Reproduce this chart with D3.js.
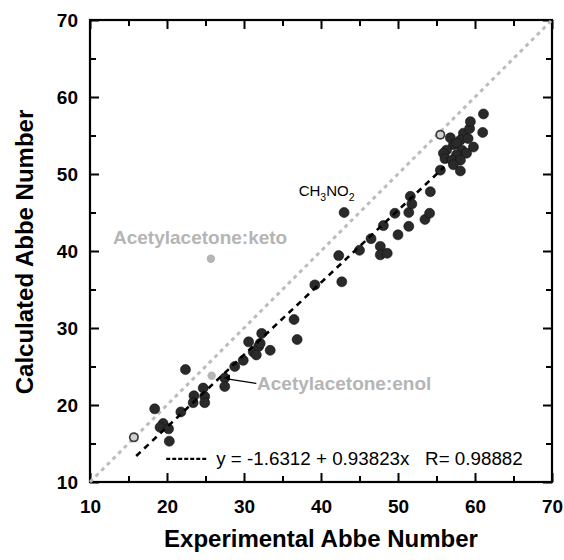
<!DOCTYPE html>
<html>
<head>
<meta charset="utf-8">
<script src="https://cdn.jsdelivr.net/npm/d3@7"></script>
<style>
  body { margin: 0; background: #fff; }
  svg { display: block; font-family: "Liberation Sans", Arial, sans-serif; }
</style>
</head>
<body>
<script>
// experimental vs calculated Abbe numbers (black points)
const expAbbe = [18.4, 19.5, 19.1, 20.2, 20.3, 21.8, 22.4, 23.5, 23.4, 24.7, 24.9, 24.9,
  27.5, 27.5, 28.8, 29.9, 30.6, 31.2, 31.9, 32.3, 32.1, 33.4, 31.6, 36.5, 36.9,
  39.2, 42.3, 42.7, 43.0, 45.0, 46.5, 47.7, 47.7, 48.6, 48.1, 49.6, 50.0, 51.4,
  51.4, 51.6, 51.8, 53.5, 54.1, 54.2, 55.5,
  56.8, 58.5, 58.1, 59.1, 59.3, 59.4, 61.1, 61.0, 59.8, 57.2, 57.6, 56.3, 55.9,
  58.3, 58.9, 57.6, 56.1, 57.0, 58.1, 57.2, 58.1];
const calcAbbe = [19.5, 17.6, 17.1, 16.9, 15.3, 19.1, 24.6, 21.2, 20.3, 22.2, 21.1, 20.3,
  23.5, 22.4, 25.0, 25.8, 28.2, 26.9, 27.6, 29.3, 28.0, 27.1, 26.5, 31.1, 28.5,
  35.6, 39.4, 36.0, 45.0, 40.1, 41.6, 40.6, 39.5, 39.7, 43.3, 44.9, 42.1, 43.2,
  45.0, 47.1, 46.1, 44.1, 44.9, 47.7, 50.5,
  54.7, 55.3, 54.4, 54.6, 55.9, 56.8, 57.8, 55.4, 53.5, 53.8, 54.0, 53.1, 52.7,
  53.1, 52.7, 52.5, 52.0, 51.8, 51.8, 51.2, 50.4];
// points drawn black with a light centre
const overlapExp = [15.7, 55.5];
const overlapCalc = [15.8, 55.1];
// acetylacetone tautomers (gray)
const tautNames = ["Acetylacetone:keto", "Acetylacetone:enol"];
const tautExp = [25.7, 25.8];
const tautCalc = [39.0, 23.8];

const fitA = -1.6312, fitB = 0.93823, fitR = 0.98882;
const fitRange = [16, 56];

const majorTicks = [10, 20, 30, 40, 50, 60, 70];
const minorTicks = [15, 25, 35, 45, 55, 65];

const W = 564, H = 560;
const svg = d3.select("body").append("svg").attr("width", W).attr("height", H);

const x = d3.scaleLinear().domain([10, 70]).range([90, 552]);
const y = d3.scaleLinear().domain([10, 70]).range([482, 20]);

// axes on all four sides, ticks inward
const addAxis = (axisFn, tr, vals, size, labels, pad) => {
  const g = svg.append("g").attr("transform", tr)
    .call(axisFn.tickValues(vals).tickSize(-size).tickPadding(pad)
      .tickFormat(labels ? d3.format("d") : ""));
  g.select(".domain").remove();
  g.selectAll("line").attr("stroke", "#000").attr("stroke-width", 2);
  g.selectAll("text").attr("fill", "#000").style("font-size", "19px").style("font-weight", "bold");
  return g;
};
addAxis(d3.axisBottom(x), "translate(0,482)", majorTicks, 9, true, 17.5);
addAxis(d3.axisBottom(x), "translate(0,482)", minorTicks, 6, false, 0);
addAxis(d3.axisTop(x), "translate(0,20)", majorTicks, 9, false, 0);
addAxis(d3.axisTop(x), "translate(0,20)", minorTicks, 6, false, 0);
addAxis(d3.axisLeft(y), "translate(90,0)", majorTicks, 9, true, 12);
addAxis(d3.axisLeft(y), "translate(90,0)", minorTicks, 6, false, 0);
addAxis(d3.axisRight(y), "translate(552,0)", majorTicks, 9, false, 0);
addAxis(d3.axisRight(y), "translate(552,0)", minorTicks, 6, false, 0);

svg.append("rect")
  .attr("x", x(10)).attr("y", y(70))
  .attr("width", x(70) - x(10)).attr("height", y(10) - y(70))
  .attr("fill", "none").attr("stroke", "#000").attr("stroke-width", 2.2);

// y = x reference
svg.append("line")
  .attr("x1", x(10)).attr("y1", y(10)).attr("x2", x(70)).attr("y2", y(70))
  .attr("stroke", "#bdbdbd").attr("stroke-width", 3).attr("stroke-dasharray", "4,4");

// points
const pts = expAbbe.map((v, i) => [v, calcAbbe[i]]);
svg.append("g").selectAll("circle").data(pts).enter().append("circle")
  .attr("cx", d => x(d[0])).attr("cy", d => y(d[1])).attr("r", 5)
  .attr("fill", "#2a2a2a").attr("stroke", "#111").attr("stroke-width", 0.6);

const ov = overlapExp.map((v, i) => [v, overlapCalc[i]]);
const og = svg.append("g");
og.selectAll("circle.o").data(ov).enter().append("circle")
  .attr("cx", d => x(d[0])).attr("cy", d => y(d[1])).attr("r", 5)
  .attr("fill", "#3a3a3a");
og.selectAll("circle.i").data(ov).enter().append("circle")
  .attr("cx", d => x(d[0])).attr("cy", d => y(d[1])).attr("r", 3.3)
  .attr("fill", "#d0d0d0");

// regression line
svg.append("line")
  .attr("x1", x(fitRange[0])).attr("y1", y(fitA + fitB * fitRange[0]))
  .attr("x2", x(fitRange[1])).attr("y2", y(fitA + fitB * fitRange[1]))
  .attr("stroke", "#000").attr("stroke-width", 2.6).attr("stroke-dasharray", "6,5");

// gray tautomer points
svg.append("g").selectAll("circle").data(tautExp).enter().append("circle")
  .attr("cx", d => x(d)).attr("cy", (d, i) => y(tautCalc[i])).attr("r", 4.2)
  .attr("fill", "#b5b5b5");

// labels
svg.append("text").attr("x", x(24.3)).attr("y", y(40.9))
  .attr("text-anchor", "middle").attr("fill", "#b5b5b5")
  .style("font-size", "19px").style("font-weight", "bold").text(tautNames[0]);
svg.append("line")
  .attr("x1", x(27.8)).attr("y1", y(23.4)).attr("x2", x(31.6)).attr("y2", y(22.8))
  .attr("stroke", "#000").attr("stroke-width", 1.3);
svg.append("path")
  .attr("d", `M${x(27.4)},${y(23.5)} l6,-3.5 l-0.5,6 z`).attr("fill", "#000");
svg.append("text").attr("x", x(31.7)).attr("y", y(22.0))
  .attr("fill", "#b5b5b5")
  .style("font-size", "19px").style("font-weight", "bold").text(tautNames[1]);

const ch = svg.append("text").attr("x", x(37.1)).attr("y", y(47.1))
  .attr("fill", "#000").style("font-size", "15px");
ch.append("tspan").text("CH");
ch.append("tspan").attr("dy", 5).style("font-size", "10.5px").text("3");
ch.append("tspan").attr("dy", -5).text("NO");
ch.append("tspan").attr("dy", 5).style("font-size", "10.5px").text("2");

// fit legend
svg.append("line")
  .attr("x1", x(19.9)).attr("y1", y(13.0)).attr("x2", x(25.1)).attr("y2", y(13.0))
  .attr("stroke", "#000").attr("stroke-width", 2.2).attr("stroke-dasharray", "4,2");
svg.append("text").attr("x", x(26.4)).attr("y", y(12.2))
  .attr("fill", "#000").style("font-size", "18.8px")
  .attr("xml:space", "preserve")
  .text(`y = ${fitA} + ${fitB}x   R= ${fitR}`);

// axis titles
svg.append("text").attr("x", 321).attr("y", 547)
  .attr("text-anchor", "middle").style("font-size", "24px").style("font-weight", "bold")
  .text("Experimental Abbe Number");
svg.append("text").attr("transform", "translate(33,252) rotate(-90)")
  .attr("text-anchor", "middle").style("font-size", "24px").style("font-weight", "bold")
  .text("Calculated Abbe Number");
</script>
</body>
</html>
